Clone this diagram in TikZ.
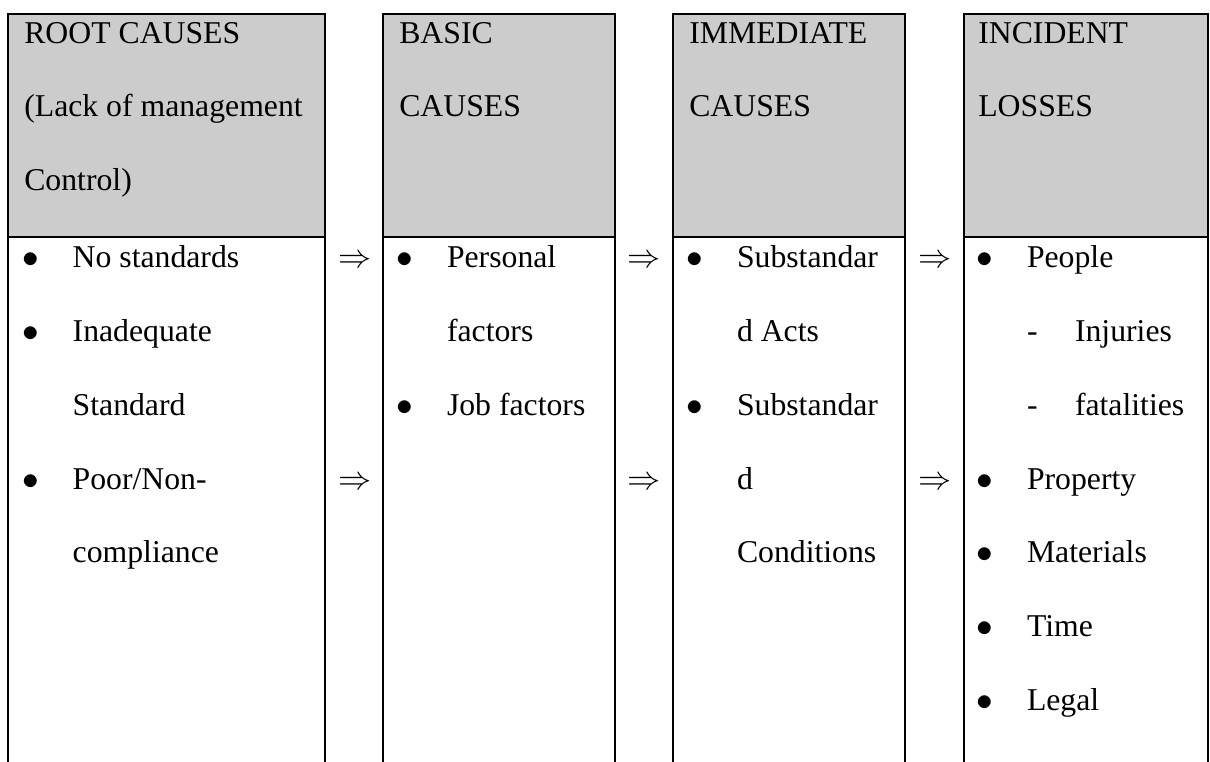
\documentclass[tikz,border=0pt]{standalone}
\usepackage{fontspec}
\setmainfont{Liberation Serif}
\usetikzlibrary{positioning,fit}

\begin{document}
\begin{tikzpicture}[x=0.75pt,y=-0.75pt,line width=1.5pt]
\tikzstyle{hd} = [draw,fill=black!20,inner sep=0pt]
\tikzstyle{bd} = [draw,fill=white,inner sep=0pt]
\tikzstyle{tx} = [inner sep=0pt,anchor=base west,font=\fontsize{23.8}{28}\selectfont]
\tikzstyle{bl} = [inner sep=0pt,anchor=base,font=\fontsize{23.8}{28}\selectfont]
\useasboundingbox (0,0) rectangle (1210,762);
% the four columns
\node[bd,fit={(8,237) (325,764)}] (B1) {};
\node[bd,fit={(382.7,237) (615,764)}] (B2) {};
\node[bd,fit={(672.7,237) (904.7,764)}] (B3) {};
\node[bd,fit={(964,237) (1208,764)}] (B4) {};
\node[hd,fit={(8,14) (325,237)}] (H1) {};
\node[hd,fit={(382.7,14) (615,237)}] (H2) {};
\node[hd,fit={(672.7,14) (904.7,237)}] (H3) {};
\node[hd,fit={(964,14) (1208,237)}] (H4) {};
% headings
\node[tx] (h1a) at (23.3,43.3) {ROOT CAUSES};
\node[tx] (h1b) at (23.3,117) {(Lack of management};
\node[tx] (h1c) at (23.3,190.7) {Control)};
\node[tx] (h2a) at (398.3,43.3) {BASIC};
\node[tx] (h2b) at (398.3,117) {CAUSES};
\node[tx] (h3a) at (688.3,43.3) {IMMEDIATE};
\node[tx] (h3b) at (688.3,117) {CAUSES};
\node[tx] (h4a) at (977.3,43.3) {INCIDENT};
\node[tx] (h4b) at (977.3,117) {LOSSES};
% root causes
\node[bl] (d1a) at (30.8,268) {$\bullet$};
\node[tx] (r1a) at (71.7,268) {No standards};
\node[bl] (d1b) at (30.8,341.7) {$\bullet$};
\node[tx] (r1b) at (71.7,341.7) {Inadequate};
\node[tx] (r1c) at (71.7,415.4) {Standard};
\node[bl] (d1d) at (30.8,489.1) {$\bullet$};
\node[tx] (r1d) at (71.7,489.1) {Poor/Non-};
\node[tx] (r1e) at (71.7,562.8) {compliance};
% basic causes
\node[bl] (d2a) at (404.5,268) {$\bullet$};
\node[tx] (r2a) at (446,268) {Personal};
\node[tx] (r2b) at (446,341.7) {factors};
\node[bl] (d2c) at (404.5,415.4) {$\bullet$};
\node[tx] (r2c) at (446,415.4) {Job factors};
% immediate causes
\node[bl] (d3a) at (694.5,268) {$\bullet$};
\node[tx] (r3a) at (736,268) {Substandar};
\node[tx] (r3b) at (736,341.7) {d Acts};
\node[bl] (d3c) at (694.5,415.4) {$\bullet$};
\node[tx] (r3c) at (736,415.4) {Substandar};
\node[tx] (r3d) at (736,489.1) {d};
\node[tx] (r3e) at (736,562.8) {Conditions};
% incident losses
\node[bl] (d4a) at (985,268) {$\bullet$};
\node[tx] (r4a) at (1026,268) {People};
\node[tx] (s4b) at (1026,341.7) {-};
\node[tx] (r4b) at (1074,341.7) {Injuries};
\node[tx] (s4c) at (1026,415.4) {-};
\node[tx] (r4c) at (1074,415.4) {fatalities};
\foreach \t/\y in {Property/489.1,Materials/562.8,Time/636.5,Legal/710.2}{
  \node[bl] (d4\t) at (985,\y) {$\bullet$};
  \node[tx] (r4\t) at (1026,\y) {\t};
}
% arrows between the columns
\foreach \x/\n in {354.7/1,644/2,935/3}{
  \node[bl] (a\n a) at (\x,268) {$\Rightarrow$};
  \node[bl] (a\n b) at (\x,489.1) {$\Rightarrow$};
}
\end{tikzpicture}
\end{document}
